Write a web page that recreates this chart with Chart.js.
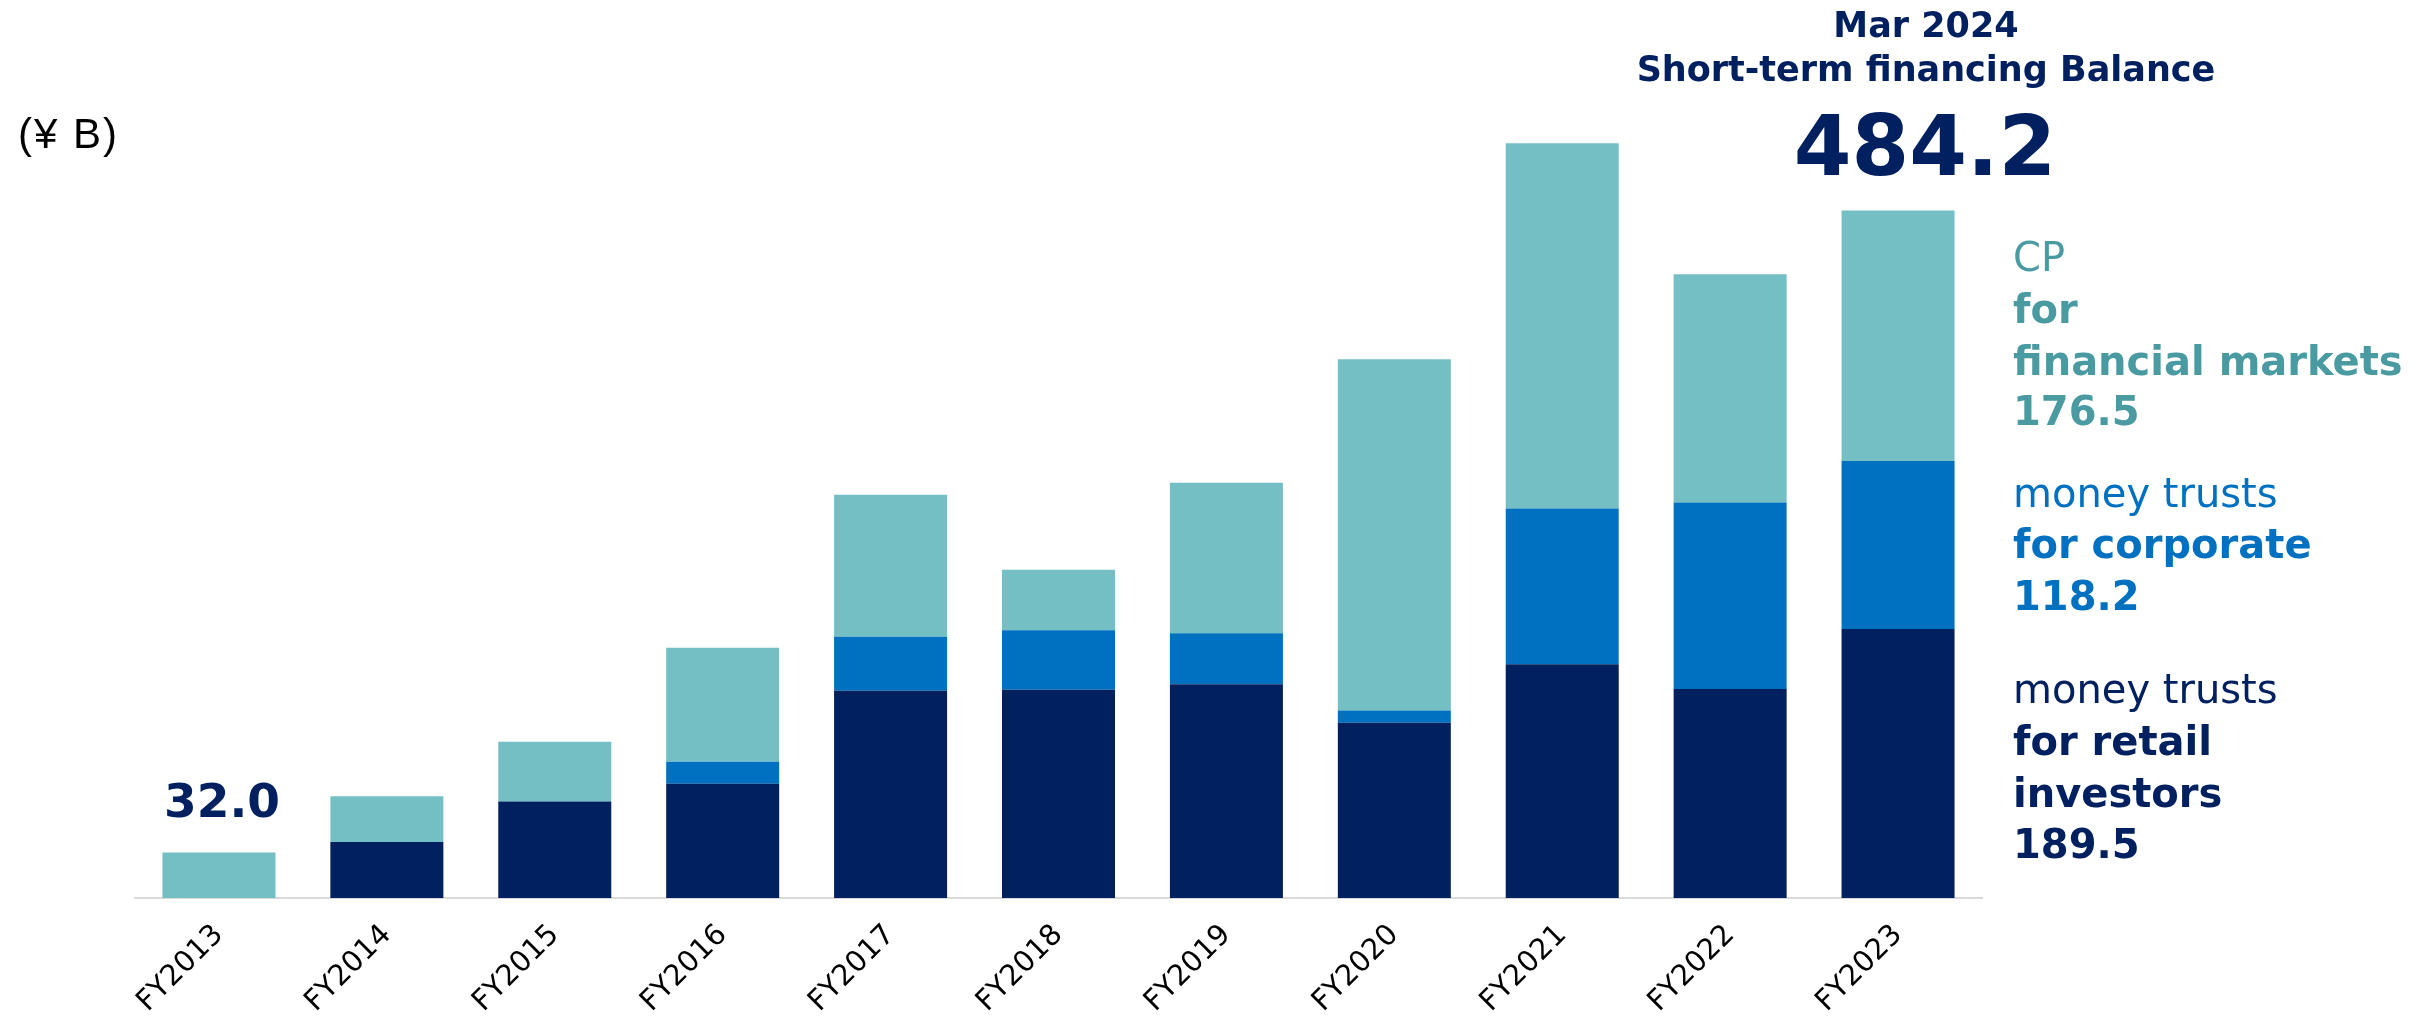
<!DOCTYPE html>
<html>
<head>
<meta charset="utf-8">
<script src="https://cdn.jsdelivr.net/npm/chart.js@4.4.0/dist/chart.umd.min.js"></script>
<style>
html,body{margin:0;padding:0;background:#fff;}
#wrap{position:relative;width:2415px;height:1017px;overflow:hidden;background:#fff;}
#c{position:absolute;left:0;top:0;}
.t{position:absolute;white-space:nowrap;font-family:"DejaVu Sans",Verdana,sans-serif;}
.l40{font-size:40px;line-height:40px;left:2013px;}
.b{font-weight:bold;}
.cp{color:#4A9BA1;}
.corp{color:#0070C0;}
.ret{color:#002060;}
</style>
</head>
<body>
<div id="wrap">
  <canvas id="c" width="2415" height="1017"></canvas>

  <div class="t" style="left:18px;top:113px;font-family:'Liberation Sans',Arial,sans-serif;font-size:42px;line-height:42px;letter-spacing:2px;color:#000;">(¥ B)</div>

  <div class="t b ret" style="left:1626px;width:600px;text-align:center;top:8px;font-size:35px;line-height:35px;">Mar 2024</div>
  <div class="t b ret" style="left:1626px;width:600px;text-align:center;top:52px;font-size:35px;line-height:35px;">Short-term financing Balance</div>
  <div class="t b ret" id="totalLabel" style="left:1725px;width:400px;text-align:center;top:105px;font-size:83px;line-height:83px;"></div>

  <div class="t l40 cp" style="top:237px;">CP</div>
  <div class="t l40 cp b" style="top:289px;">for</div>
  <div class="t l40 cp b" style="top:341px;">financial markets</div>
  <div class="t l40 cp b" id="cpLabel" style="top:391px;"></div>

  <div class="t l40 corp" style="top:473px;">money trusts</div>
  <div class="t l40 corp b" style="top:524px;">for corporate</div>
  <div class="t l40 corp b" id="corpLabel" style="top:576px;"></div>

  <div class="t l40 ret" style="top:669px;">money trusts</div>
  <div class="t l40 ret b" style="top:721px;">for retail</div>
  <div class="t l40 ret b" style="top:773px;">investors</div>
  <div class="t l40 ret b" id="retLabel" style="top:824px;"></div>
</div>

<script>
// ---- data ----
const categories = ["FY2013","FY2014","FY2015","FY2016","FY2017","FY2018","FY2019","FY2020","FY2021","FY2022","FY2023"];
const retailValues    = [0,   39.5, 68.0, 80.5, 146.0, 146.6, 150.5, 123.5, 164.6, 147.2, 189.5];
const corporateValues = [0,   0,    0,    15.5, 38.0,  42.0,  36.0,  8.5,   109.7, 131.3, 118.2];
const cpValues        = [32.0,32.2, 42.0, 80.2, 100.0, 42.5,  106.0, 247.4, 257.2, 160.8, 176.5];
const yAxisMin = 0;
const yAxisMax = 600;

const last = categories.length - 1;
const lastTotal = retailValues[last] + corporateValues[last] + cpValues[last];
document.getElementById('totalLabel').textContent = lastTotal.toFixed(1);
document.getElementById('cpLabel').textContent = cpValues[last].toFixed(1);
document.getElementById('corpLabel').textContent = corporateValues[last].toFixed(1);
document.getElementById('retLabel').textContent = retailValues[last].toFixed(1);

const firstValueLabel = {
  id: 'firstValueLabel',
  afterDatasetsDraw(chart) {
    const bar = chart.getDatasetMeta(2).data[0];
    const total = retailValues[0] + corporateValues[0] + cpValues[0];
    const ctx = chart.ctx;
    ctx.save();
    ctx.font = 'bold 47px "DejaVu Sans"';
    ctx.fillStyle = '#002060';
    ctx.textAlign = 'center';
    ctx.textBaseline = 'alphabetic';
    ctx.fillText(total.toFixed(1), bar.x + 3, bar.y - 36);
    ctx.restore();
  }
};

new Chart(document.getElementById('c'), {
  type: 'bar',
  data: {
    labels: categories,
    datasets: [
      { label: 'money trusts for retail investors', data: retailValues, backgroundColor: '#002060', stack: 's' },
      { label: 'money trusts for corporate', data: corporateValues, backgroundColor: '#0070C0', stack: 's' },
      { label: 'CP for financial markets', data: cpValues, backgroundColor: '#73BFC4', stack: 's' }
    ]
  },
  options: {
    responsive: false,
    animation: false,
    devicePixelRatio: 1,
    layout: { padding: { left: 135, right: 433, top: 46, bottom: 0 } },
    datasets: { bar: { categoryPercentage: 1, barPercentage: 0.673, borderWidth: 0 } },
    plugins: { legend: { display: false }, tooltip: { enabled: false } },
    scales: {
      x: {
        stacked: true,
        grid: { display: false, drawTicks: false },
        border: { display: true, color: '#d9d9d9', width: 2 },
        ticks: {
          color: '#000',
          font: { family: 'DejaVu Sans', size: 29 },
          minRotation: 45, maxRotation: 45,
          autoSkip: false,
          padding: 20
        },
        afterFit(scale) { scale.height = 119; }
      },
      y: { stacked: true, display: false, min: yAxisMin, max: yAxisMax }
    }
  },
  plugins: [firstValueLabel]
});
</script>
</body>
</html>
